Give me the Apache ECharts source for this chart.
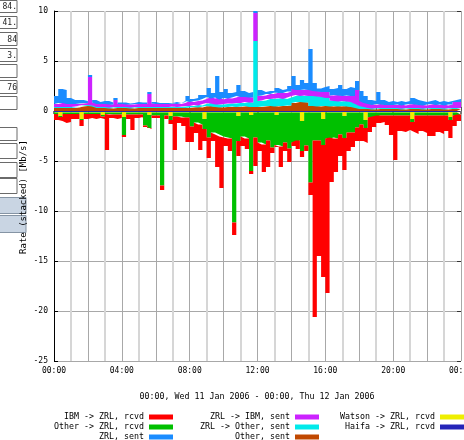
<!DOCTYPE html>
<html>
<head>
<meta charset="utf-8">
<script src="https://cdn.jsdelivr.net/npm/echarts@6/dist/echarts.min.js"></script>
<style>
  html, body { margin: 0; padding: 0; background: #fff; }
  #chart { width: 464px; height: 440px; }
</style>
</head>
<body>
<div id="chart"></div>
<script>
// 15-minute slots over 00:00 Wed 11 Jan 2006 -> 00:00 Thu 12 Jan 2006 (96 slots)
const hourTicks = ['00:00', '04:00', '08:00', '12:00', '16:00', '20:00', '00:00'];

// sent (stacked above zero), Mb/s
const otherSent = [
  0.3,0.3,0.3,0.3,0.3,0.35,0.45,0.5,0.5,0.45,
  0.3,0.3,0.3,0.25,0.3,0.3,0.3,0.3,0.25,0.3,
  0.3,0.3,0.3,0.3,0.3,0.3,0.3,0.3,0.3,0.3,
  0.3,0.3,0.35,0.4,0.35,0.45,0.5,0.45,0.4,0.35,
  0.4,0.4,0.45,0.4,0.45,0.5,0.4,0.4,0.4,0.45,
  0.5,0.5,0.45,0.5,0.5,0.55,0.8,0.9,0.9,0.85,
  0.5,0.5,0.45,0.5,0.5,0.45,0.5,0.45,0.5,0.45,
  0.4,0.3,0.2,0.2,0.2,0.15,0.2,0.2,0.2,0.2,
  0.2,0.2,0.15,0.2,0.2,0.2,0.2,0.15,0.2,0.2,
  0.2,0.2,0.15,0.2,0.2,0.2
];
const zrlOtherSent = [
  0.1,0.1,0.1,0.1,0.1,0.1,0.1,0.1,0.1,0.1,
  0.1,0.1,0.1,0.1,0.1,0.1,0.1,0.1,0.1,0.1,
  0.1,0.1,0.1,0.1,0.1,0.1,0.1,0.1,0.15,0.1,
  0.15,0.2,0.15,0.2,0.2,0.25,0.3,0.3,0.25,0.3,
  0.3,0.35,0.3,0.4,0.35,0.4,0.45,6.6,0.6,0.6,
  0.7,0.7,0.8,0.8,0.7,0.8,0.7,0.7,0.6,0.7,
  1.0,1.0,1.0,0.9,0.8,0.6,0.5,0.5,0.5,0.5,
  0.5,0.4,0.3,0.2,0.1,0.1,0.1,0.1,0.1,0.1,
  0.1,0.1,0.1,0.1,0.1,0.1,0.1,0.1,0.1,0.1,
  0.1,0.1,0.1,0.1,0.1,0.1
];
const zrlIbmSent = [
  0.3,0.4,0.4,0.3,0.3,0.25,0.2,0.2,2.8,0.3,
  0.3,0.3,0.3,0.3,0.7,0.3,0.3,0.25,0.3,0.3,
  0.3,0.3,1.3,0.35,0.3,0.3,0.3,0.3,0.3,0.3,
  0.35,0.5,0.4,0.4,0.5,0.5,0.6,0.5,0.7,0.5,
  0.6,0.5,0.6,0.7,0.6,0.5,0.5,2.8,0.5,0.5,
  0.5,0.5,0.6,0.5,0.6,0.6,0.7,0.5,0.6,0.6,
  0.6,0.5,0.5,0.5,0.6,0.5,0.6,0.6,0.5,0.6,
  0.6,1.4,0.5,0.4,0.4,0.35,0.4,0.35,0.3,0.3,
  0.3,0.35,0.3,0.35,0.4,0.35,0.3,0.3,0.35,0.4,
  0.3,0.35,0.3,0.35,0.6,0.6
];
const zrlSent = [
  0.8,1.4,1.3,0.6,0.4,0.4,0.35,0.2,0.2,0.25,
  0.2,0.3,0.3,0.2,0.2,0.15,0.15,0.1,0.15,0.2,
  0.15,0.15,0.2,0.15,0.1,0.1,0.1,0.1,0.15,0.1,
  0.1,0.5,0.3,0.3,0.55,0.4,0.9,0.55,2.15,0.75,
  0.9,0.55,0.55,1.1,0.6,0.4,0.55,0.2,0.6,0.35,
  0.3,0.3,0.45,0.3,0.4,0.55,1.3,0.5,1.0,0.65,
  4.1,0.8,0.3,0.5,0.6,0.65,0.7,1.05,0.7,0.85,
  0.8,0.9,1.0,0.7,0.4,0.4,1.2,0.45,0.3,0.4,
  0.3,0.35,0.35,0.35,0.6,0.45,0.4,0.35,0.35,0.4,
  0.3,0.35,0.35,0.35,0.2,0.3
];

// received (stacked below zero), Mb/s
const haifaRcvd = [
  -0.1,-0.1,-0.1,-0.1,-0.1,-0.1,-0.1,-0.1,-0.1,-0.1,
  -0.1,-0.1,-0.1,-0.1,-0.1,-0.1,-0.1,-0.1,-0.1,-0.1,
  -0.1,-0.1,-0.1,-0.1,-0.1,-0.1,-0.1,-0.1,-0.1,-0.1,
  -0.1,-0.1,-0.1,-0.1,-0.1,-0.1,-0.1,-0.1,-0.1,-0.1,
  -0.1,-0.1,-0.1,-0.1,-0.1,-0.1,-0.1,-0.1,-0.1,-0.1,
  -0.1,-0.1,-0.1,-0.1,-0.1,-0.1,-0.1,-0.1,-0.1,-0.1,
  -0.1,-0.1,-0.1,-0.1,-0.1,-0.1,-0.1,-0.1,-0.1,-0.1,
  -0.1,-0.1,-0.1,-0.1,-0.1,-0.1,-0.1,-0.1,-0.1,-0.1,
  -0.1,-0.1,-0.1,-0.1,-0.1,-0.1,-0.1,-0.1,-0.1,-0.1,
  -0.1,-0.1,-0.1,-0.1,-0.1,-0.1
];
const watsonRcvd = [
  -0.05,-0.4,-0.05,-0.05,-0.05,-0.05,-0.7,-0.05,-0.05,-0.05,
  -0.05,-0.3,-0.05,-0.05,-0.05,-0.05,-0.5,-0.05,-0.05,-0.05,
  -0.05,-0.05,-0.3,-0.05,-0.05,-0.05,-0.05,-0.4,-0.05,-0.05,
  -0.05,-0.05,-0.05,-0.05,-0.05,-0.7,-0.05,-0.05,-0.05,-0.05,
  -0.05,-0.05,-0.05,-0.4,-0.05,-0.05,-0.3,-0.05,-0.05,-0.05,
  -0.05,-0.05,-0.3,-0.05,-0.05,-0.05,-0.05,-0.05,-0.9,-0.05,
  -0.05,-0.05,-0.05,-0.7,-0.05,-0.05,-0.05,-0.05,-0.4,-0.05,
  -0.05,-0.05,-0.05,-0.8,-0.05,-0.05,-0.05,-0.05,-0.05,-0.05,
  -0.05,-0.05,-0.05,-0.05,-0.7,-0.05,-0.05,-0.05,-0.05,-0.05,
  -0.05,-0.05,-0.05,-0.5,-0.05,-0.05
];
const otherRcvd = [
  -0.15,-0.1,-0.15,-0.15,-0.15,-0.15,-0.1,-0.15,-0.15,-0.15,
  -0.15,-0.15,-0.15,-0.2,-0.2,-0.2,-1.8,-0.2,-0.2,-0.2,
  -0.2,-1.3,-1.3,-0.3,-0.3,-7.3,-0.3,-0.4,-0.4,-0.4,
  -0.5,-0.5,-1.4,-1.0,-1.2,-1.0,-2.5,-2.0,-2.2,-2.4,
  -2.5,-2.6,-11.0,-2.5,-2.4,-2.6,-5.6,-2.5,-3.0,-3.2,
  -2.8,-3.5,-3.0,-3.4,-3.0,-3.6,-3.0,-2.8,-3.0,-3.3,
  -7.0,-2.8,-2.8,-2.6,-2.6,-2.5,-2.6,-2.2,-2.2,-2.0,
  -2.0,-1.5,-1.2,-0.8,-0.5,-0.4,-0.3,-0.3,-0.3,-0.3,
  -0.3,-0.3,-0.3,-0.3,-0.3,-0.3,-0.3,-0.3,-0.3,-0.3,
  -0.3,-0.3,-0.3,-0.3,-0.3,-0.2
];
const ibmRcvd = [
  -0.6,-0.4,-0.9,-0.8,-0.5,-0.5,-0.6,-0.5,-0.4,-0.5,
  -0.4,-0.25,-3.6,-0.35,-0.45,-0.35,-0.2,-0.45,-1.55,-0.35,
  -0.25,-0.15,-0.1,-0.25,-0.25,-0.45,-0.35,-0.4,-3.35,-0.65,
  -0.85,-2.45,-1.55,-1.05,-2.55,-1.2,-2.05,-0.85,-3.25,-5.15,
  -0.85,-1.25,-1.25,-1.5,-0.95,-1.05,-0.3,-2.85,-0.85,-2.75,
  -2.65,-0.55,-0.2,-2.05,-0.85,-1.35,-0.35,-0.85,-0.6,-0.55,
  -1.25,-17.65,-11.55,-13.2,-15.45,-4.45,-3.35,-2.15,-3.2,-1.85,
  -1.45,-1.35,-1.65,-1.5,-1.45,-1.05,-0.75,-0.65,-0.95,-1.95,
  -4.45,-1.55,-1.65,-1.45,-1.0,-1.85,-1.55,-1.75,-2.05,-2.05,
  -1.65,-1.85,-1.55,-1.8,-1.05,-0.65
];

const mono = 'DejaVu Sans Mono';

// category slots, one per 15 minutes plus the closing 24:00 edge
const slots = [];
for (let i = 0; i <= 96; i++) {
  const h = Math.floor(i / 4) % 24, m = (i % 4) * 15;
  slots.push(String(h).padStart(2, '0') + ':' + String(m).padStart(2, '0'));
}

// step:'end' needs the last value repeated at the closing edge
function edge(arr) { return arr.concat([arr[arr.length - 1]]); }

function area(name, arr, color) {
  return {
    name: name, type: 'line', stack: 'rate', step: 'end',
    data: edge(arr), symbol: 'none', showSymbol: false,
    color: color, itemStyle: { color: color },
    lineStyle: { width: 0 }, areaStyle: { color: color, opacity: 1 },
    silent: true
  };
}

// one legend block per entry so the swatches line up in columns
function legendItem(name, right, top) {
  return {
    data: [name], orient: 'horizontal', align: 'right', right: right, top: top,
    padding: 0, itemGap: 0, itemWidth: 24, itemHeight: 5, icon: 'rect',
    selectedMode: false,
    textStyle: { fontFamily: mono, fontSize: 8.3, color: '#000', lineHeight: 10 }
  };
}

// left-edge widget fragments
const boxes = [[0,12,'84.'],[16,28,'41.'],[32,45,'84'],[48,61,'3.'],[64,77,''],[80,93,'76'],[96,109,''],
               [127,140,''],[143,158,''],[162,177,''],[178,193,'']];
const blueBoxes = [[197,213],[215,232]];
const side = [];
boxes.forEach(function (b) {
  side.push({ type: 'rect', shape: { x: -5, y: b[0] + 0.5, width: 22, height: b[1] - b[0] },
    style: { fill: '#fff', stroke: '#6a6a6a', lineWidth: 1 } });
  if (b[2]) side.push({ type: 'text', x: 17, y: (b[0] + b[1]) / 2 + 1,
    style: { text: b[2], fill: '#222', font: '8px ' + mono, textAlign: 'right', textVerticalAlign: 'middle' } });
});
blueBoxes.forEach(function (b) {
  side.push({ type: 'rect', shape: { x: -5, y: b[0] + 0.5, width: 31, height: b[1] - b[0] },
    style: { fill: '#c9d5e3', stroke: '#8594a4', lineWidth: 1 } });
});

const chart = echarts.init(document.getElementById('chart'), null, { renderer: 'canvas' });
chart.setOption({
  animation: false,
  backgroundColor: '#fff',
  grid: { left: 54, right: 3, top: 11, bottom: 79, outerBoundsMode: 'none', containLabel: false },
  xAxis: [{
    type: 'category', data: slots, boundaryGap: false, position: 'bottom',
    axisLine: { lineStyle: { color: '#000', width: 1 } },
    axisTick: { show: true, inside: true, length: 4, interval: 3, lineStyle: { color: '#555' } },
    axisLabel: { interval: 15, margin: 6, fontFamily: mono, fontSize: 8, color: '#000',
      formatter: function (v, i) { return hourTicks[i / 16]; } },
    splitLine: { show: true, interval: function (i) { return i > 0 && i % 8 === 0; },
      lineStyle: { color: '#a8a8a8', width: 1 } }
  }, {
    type: 'category', data: slots, boundaryGap: false, position: 'top',
    axisLine: { lineStyle: { color: '#000', width: 1 } },
    axisTick: { show: true, inside: true, length: 3, interval: 15, lineStyle: { color: '#777', width: 2 } },
    axisLabel: { show: false },
    splitLine: { show: true, interval: function (i) { return i % 8 === 4; },
      lineStyle: { color: '#d6d6d6', width: 2 } }
  }],
  yAxis: [{
    type: 'value', min: -25, max: 10, interval: 5, position: 'left',
    axisLine: { show: true, lineStyle: { color: '#000' } },
    axisTick: { show: true, inside: true, length: 4, lineStyle: { color: '#000' } },
    axisLabel: { margin: 6, fontFamily: mono, fontSize: 8, color: '#000' },
    splitLine: { show: true, lineStyle: { color: '#a8a8a8', width: 1 } }
  }, {
    type: 'value', min: -25, max: 10, interval: 5, position: 'right',
    axisLine: { show: false },
    axisTick: { show: true, inside: true, length: 4, lineStyle: { color: '#333' } },
    axisLabel: { show: false },
    splitLine: { show: false }
  }],
  legend: [
    legendItem('IBM -> ZRL, rcvd', 291, 412),
    legendItem('Other -> ZRL, rcvd', 291, 422),
    legendItem('ZRL, sent', 291, 432),
    legendItem('ZRL -> IBM, sent', 145, 412),
    legendItem('ZRL -> Other, sent', 145, 422),
    legendItem('Other, sent', 145, 432),
    legendItem('Watson -> ZRL, rcvd', 0, 412),
    legendItem('Haifa -> ZRL, rcvd', 0, 422)
  ],
  graphic: side.concat([
    { type: 'text', x: 24, y: 197, rotation: Math.PI / 2,
      style: { text: 'Rate (stacked) [Mb/s]', fill: '#000', font: '9px ' + mono,
        textAlign: 'center', textVerticalAlign: 'middle' } },
    { type: 'text', x: 257, y: 397,
      style: { text: '00:00, Wed 11 Jan 2006 - 00:00, Thu 12 Jan 2006', fill: '#000',
        font: '8.3px ' + mono, textAlign: 'center', textVerticalAlign: 'middle' } }
  ]),
  series: [
    // below zero, nearest the axis first
    area('Haifa -> ZRL, rcvd', haifaRcvd, '#2424b8'),
    area('Watson -> ZRL, rcvd', watsonRcvd, '#eeee00'),
    area('Other -> ZRL, rcvd', otherRcvd, '#00c000'),
    area('IBM -> ZRL, rcvd', ibmRcvd, '#ff0000'),
    // above zero
    area('Other, sent', otherSent, '#c04800'),
    area('ZRL -> Other, sent', zrlOtherSent, '#00eaea'),
    area('ZRL -> IBM, sent', zrlIbmSent, '#cc22ff'),
    area('ZRL, sent', zrlSent, '#1a8cff')
  ]
});
</script>
</body>
</html>
